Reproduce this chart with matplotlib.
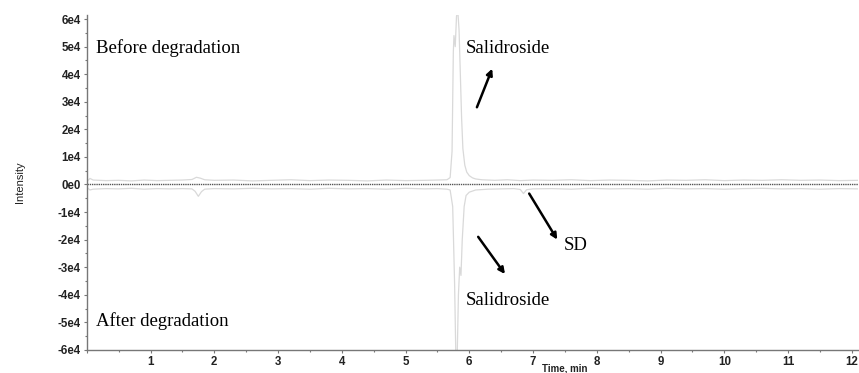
"""
Salidroside chromatogram before and after degradation (mirror plot)
"""

from matplotlib import pyplot as plt
from matplotlib.ticker import MultipleLocator, FuncFormatter

# retention time (min) and intensity (counts) for the two runs
time_before = [0.0, 0.05, 0.1, 0.3, 0.5, 0.7, 0.9, 1.1, 1.3, 1.5, 1.65,
               1.72, 1.78, 1.85, 2.0, 2.3, 2.6, 2.9, 3.2, 3.5, 3.8, 4.1,
               4.4, 4.7, 5.0, 5.3, 5.5, 5.65, 5.70, 5.73, 5.75, 5.76, 5.78,
               5.80, 5.82, 5.84, 5.86, 5.88, 5.90, 5.93, 5.96, 6.0, 6.05,
               6.1, 6.2, 6.4, 6.6, 6.8, 7.0, 7.3, 7.6, 7.9, 8.2, 8.5, 8.8,
               9.1, 9.4, 9.7, 10.0, 10.3, 10.6, 10.9, 11.2, 11.5, 11.8, 12.1]
int_before = [1000, 2200, 1600, 1400, 1500, 1300, 1600, 1400, 1500, 1600,
              1800, 2600, 2300, 1700, 1500, 1600, 1300, 1500, 1700, 1400,
              1600, 1500, 1300, 1600, 1400, 1500, 1600, 1700, 2500, 12000,
              48000, 54000, 50000, 61000, 63000, 56000, 40000, 24000, 13000,
              7000, 4500, 3200, 2400, 2000, 1700, 1500, 1700, 1400, 1600,
              1500, 1700, 1400, 1600, 1500, 1300, 1600, 1500, 1700, 1400,
              1600, 1500, 1700, 1500, 1600, 1400, 1500]

time_after = [0.0, 0.05, 0.1, 0.3, 0.5, 0.7, 0.9, 1.1, 1.3, 1.5, 1.65,
              1.70, 1.75, 1.80, 1.85, 2.0, 2.3, 2.6, 2.9, 3.2, 3.5, 3.8,
              4.1, 4.4, 4.7, 5.0, 5.3, 5.5, 5.65, 5.70, 5.74, 5.77, 5.79,
              5.81, 5.83, 5.85, 5.87, 5.89, 5.92, 5.95, 6.0, 6.1, 6.3, 6.5,
              6.7, 6.80, 6.85, 6.90, 7.0, 7.3, 7.6, 7.9, 8.2, 8.5, 8.8, 9.1,
              9.4, 9.7, 10.0, 10.3, 10.6, 10.9, 11.2, 11.5, 11.8, 12.1]
int_after = [-1000, -2000, -1700, -1500, -1600, -1400, -1700, -1500, -1600,
             -1500, -1600, -2500, -4300, -2600, -1700, -1500, -1600, -1400,
             -1600, -1500, -1700, -1400, -1600, -1500, -1700, -1400, -1600,
             -1500, -1700, -2000, -8000, -36000, -63000, -63000, -40000,
             -30000, -33000, -20000, -8000, -4000, -2800, -2000, -1700,
             -1600, -1500, -1800, -3300, -1900, -1600, -1500, -1700, -1400,
             -1600, -1500, -1700, -1400, -1600, -1500, -1700, -1500, -1400,
             -1600, -1500, -1700, -1500, -1600]

serif = ['Liberation Serif', 'DejaVu Serif']
sans = ['Liberation Sans', 'DejaVu Sans']

fig = plt.figure(figsize=(8.59, 3.73), dpi=100)
ax = fig.add_axes([0.101, 0.062, 0.898, 0.898])

ax.plot(time_before, int_before, color='#d9d9d9', lw=0.9)
ax.plot(time_after, int_after, color='#d9d9d9', lw=0.9)
ax.axhline(0, color='#555555', lw=1.0, ls=(0, (1, 0.6)))

ax.set_xlim(0, 12.1)
ax.set_ylim(-6e4, 6.15e4)

ax.xaxis.set_major_locator(MultipleLocator(1))
ax.xaxis.set_minor_locator(MultipleLocator(0.5))
ax.yaxis.set_major_locator(MultipleLocator(1e4))
ax.yaxis.set_minor_locator(MultipleLocator(5e3))
ax.xaxis.set_major_formatter(
    FuncFormatter(lambda v, p: '' if v == 0 else '%d' % v))
ax.yaxis.set_major_formatter(
    FuncFormatter(lambda v, p: '0e0' if abs(v) < 1 else '%de4' % round(v / 1e4)))

for side in ['top', 'right']:
    ax.spines[side].set_visible(False)
for side in ['left', 'bottom']:
    ax.spines[side].set_color('#777777')
    ax.spines[side].set_linewidth(1.0)

ax.tick_params(which='both', direction='out', color='#777777', width=0.8)
ax.tick_params(which='major', length=2.5, pad=2)
ax.tick_params(which='minor', length=1.5)
for lab in ax.get_xticklabels() + ax.get_yticklabels():
    lab.set_family(sans)
    lab.set_fontsize(8.3)
    lab.set_fontweight('bold')
    lab.set_color('#222222')

ax.set_xlabel('Time, min', family=sans, fontsize=7, fontweight='bold',
              color='#222222')
ax.xaxis.set_label_coords(0.62, -0.04)
ax.set_ylabel('Intensity', family=sans, fontsize=8, color='#222222')
ax.yaxis.set_label_coords(-0.08, 0.5)

ax.text(0.15, 4.95e4, 'Before degradation', family=serif, fontsize=13.5,
        va='center')
ax.text(0.15, -4.95e4, 'After degradation', family=serif, fontsize=13.5,
        va='center')
ax.text(5.95, 4.95e4, 'Salidroside', family=serif, fontsize=13.5,
        va='center')
ax.text(5.95, -4.2e4, 'Salidroside', family=serif, fontsize=13.5,
        va='center')
ax.text(7.48, -2.2e4, 'SD', family=serif, fontsize=13.5, va='center')

arrow = dict(arrowstyle='-|>', color='black', lw=1.8, mutation_scale=9,
             shrinkA=0, shrinkB=0)
ax.annotate('', xy=(6.36, 4.2e4), xytext=(6.12, 2.8e4), arrowprops=arrow)
ax.annotate('', xy=(6.56, -3.25e4), xytext=(6.14, -1.9e4), arrowprops=arrow)
ax.annotate('', xy=(7.38, -2.0e4), xytext=(6.94, -3.3e3), arrowprops=arrow)

plt.savefig('out.png', dpi=100)
